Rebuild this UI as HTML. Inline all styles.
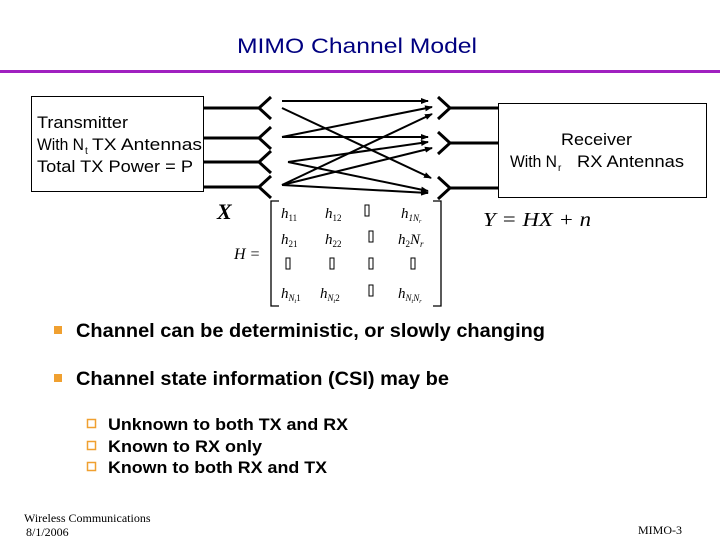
<!DOCTYPE html>
<html><head><meta charset="utf-8"><style>
html,body{margin:0;padding:0;background:#fff}
svg{display:block}
</style></head><body>
<svg width="720" height="540" viewBox="0 0 720 540" xmlns="http://www.w3.org/2000/svg" font-family="Liberation Sans, Arial, sans-serif">
<defs><marker id="a" markerWidth="8" markerHeight="6" refX="7" refY="3" orient="auto" markerUnits="userSpaceOnUse"><path d="M0,0 L8,3 L0,6 z" fill="#000"/></marker></defs>
<text x="237" y="53" font-size="21" fill="#000080" textLength="240" lengthAdjust="spacingAndGlyphs">MIMO Channel Model</text>
<rect x="0" y="70" width="720" height="3" fill="#a020c0"/>
<rect x="31.5" y="96.5" width="172" height="95" fill="#fff" stroke="#000"/>
<text x="37" y="128" font-size="16.5" textLength="91" lengthAdjust="spacingAndGlyphs">Transmitter</text>
<text x="37" y="150" font-size="16.5" textLength="47" lengthAdjust="spacingAndGlyphs">With N</text>
<text x="85" y="154" font-size="10">t</text>
<text x="92" y="150" font-size="16.5" textLength="110" lengthAdjust="spacingAndGlyphs">TX Antennas</text>
<text x="37" y="172" font-size="16.5" textLength="156" lengthAdjust="spacingAndGlyphs">Total TX Power = P</text>
<rect x="498.5" y="103.5" width="208" height="94" fill="#fff" stroke="#000"/>
<text x="561" y="145" font-size="16.5" textLength="71" lengthAdjust="spacingAndGlyphs">Receiver</text>
<text x="510" y="167" font-size="16.5" textLength="47" lengthAdjust="spacingAndGlyphs">With N</text>
<text x="558" y="171" font-size="10">r</text>
<text x="577" y="167" font-size="16.5" textLength="107" lengthAdjust="spacingAndGlyphs">RX Antennas</text>
<g stroke="#000" stroke-width="3" fill="none">
<path d="M204,108H259M271,97L259,108L271,119"/>
<path d="M204,138H259M271,127L259,138L271,149"/>
<path d="M204,162H259M271,151L259,162L271,173"/>
<path d="M204,187H259M271,176L259,187L271,198"/>
<path d="M438,97L450,108L438,119M450,108H498"/>
<path d="M438,132L450,143L438,154M450,143H498"/>
<path d="M438,177L450,188L438,199M450,188H498"/>
</g>
<g stroke="#000" stroke-width="2" marker-end="url(#a)">
<line x1="282" y1="101" x2="428" y2="101"/>
<line x1="282" y1="108" x2="431" y2="178"/>
<line x1="282" y1="137" x2="432" y2="107"/>
<line x1="282" y1="137" x2="428" y2="137"/>
<line x1="288" y1="162" x2="428" y2="142"/>
<line x1="288" y1="162" x2="428" y2="191"/>
<line x1="282" y1="185" x2="432" y2="114"/>
<line x1="282" y1="185" x2="432" y2="148"/>
<line x1="282" y1="185" x2="428" y2="193"/>
</g>
<g font-family="Liberation Serif, serif" font-style="italic" fill="#000">
<text x="217" y="219" font-size="22" font-weight="bold">X</text>
<text x="234" y="259" font-size="16">H =</text>
<text x="483" y="226" font-size="20" textLength="108" lengthAdjust="spacingAndGlyphs">Y = HX + n</text>
<g font-size="15">
<text x="281" y="218">h<tspan font-size="9" font-style="normal" dy="3">11</tspan></text>
<text x="325" y="218">h<tspan font-size="9" font-style="normal" dy="3">12</tspan></text>
<text x="401" y="218">h<tspan font-size="9" dy="3">1N</tspan><tspan font-size="6" dy="2">r</tspan></text>
<text x="281" y="244">h<tspan font-size="9" font-style="normal" dy="3">21</tspan></text>
<text x="325" y="244">h<tspan font-size="9" font-style="normal" dy="3">22</tspan></text>
<text x="398" y="244">h<tspan font-size="9" font-style="normal" dy="3">2</tspan><tspan dy="-3">N</tspan><tspan font-size="9" dy="3">r</tspan></text>
<text x="281" y="298">h<tspan font-size="9" dy="3">N</tspan><tspan font-size="6" dy="2">t</tspan><tspan font-size="9" font-style="normal" dy="-2">1</tspan></text>
<text x="320" y="298">h<tspan font-size="9" dy="3">N</tspan><tspan font-size="6" dy="2">t</tspan><tspan font-size="9" font-style="normal" dy="-2">2</tspan></text>
<text x="398" y="298">h<tspan font-size="9" dy="3">N</tspan><tspan font-size="6" dy="2">t</tspan><tspan font-size="9" dy="-2">N</tspan><tspan font-size="6" dy="2">r</tspan></text>
</g>
</g>
<g fill="none" stroke="#000" stroke-width="1">
<rect x="365" y="205" width="4" height="11"/><rect x="369" y="231" width="4" height="11"/>
<rect x="286" y="258" width="4" height="11"/><rect x="330" y="258" width="4" height="11"/><rect x="369" y="258" width="4" height="11"/><rect x="411" y="258" width="4" height="11"/>
<rect x="369" y="285" width="4" height="11"/>
</g>
<g stroke="#000" stroke-width="1.3" fill="none">
<path d="M279,201H271V306H279"/>
<path d="M433,201H441V306H433"/>
</g>
<rect x="54" y="326" width="8" height="8" fill="#f0a030"/>
<rect x="54" y="374" width="8" height="8" fill="#f0a030"/>
<g font-size="19" font-weight="bold" fill="#000">
<text x="76" y="337" textLength="469" lengthAdjust="spacingAndGlyphs">Channel can be deterministic, or slowly changing</text>
<text x="76" y="385" textLength="373" lengthAdjust="spacingAndGlyphs">Channel state information (CSI) may be</text>
</g>
<g fill="none" stroke="#f0a030" stroke-width="1.5">
<rect x="87.5" y="419.5" width="8" height="8"/>
<rect x="87.5" y="441.5" width="8" height="8"/>
<rect x="87.5" y="462.5" width="8" height="8"/>
</g>
<g font-size="17" font-weight="bold" fill="#000">
<text x="108" y="430" textLength="240" lengthAdjust="spacingAndGlyphs">Unknown to both TX and RX</text>
<text x="108" y="452" textLength="154" lengthAdjust="spacingAndGlyphs">Known to RX only</text>
<text x="108" y="473" textLength="219" lengthAdjust="spacingAndGlyphs">Known to both RX and TX</text>
</g>
<g font-family="Liberation Serif, serif" font-size="12" fill="#000">
<text x="24" y="522">Wireless Communications</text>
<text x="26" y="536">8/1/2006</text>
<text x="638" y="534">MIMO-3</text>
</g>
</svg>
</body></html>
